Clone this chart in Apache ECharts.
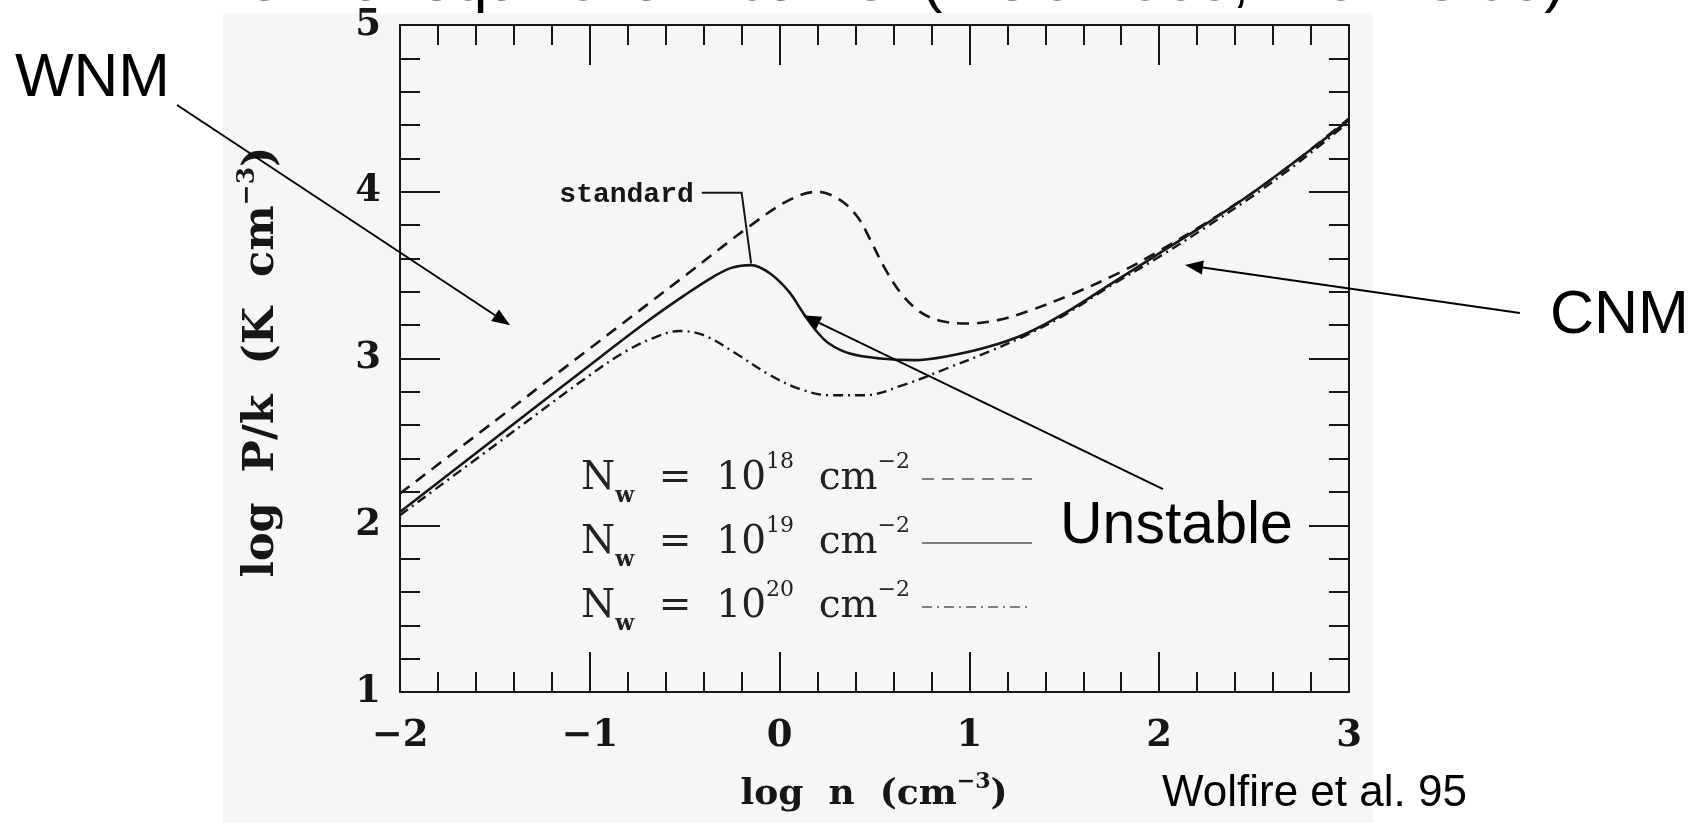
<!DOCTYPE html>
<html>
<head>
<meta charset="utf-8">
<title>Thermal equilibrium curve</title>
<script src="https://cdn.jsdelivr.net/npm/echarts@6/dist/echarts.min.js"></script>
<style>
html, body { margin: 0; padding: 0; background: #ffffff; }
#chart { width: 1704px; height: 823px; }
</style>
</head>
<body>
<div id="chart"></div>
<script>
// Thermal equilibrium curves: log n (cm^-3) against log P/k (K cm^-3)
// for three column densities N_w of the warm shielding layer.
const logN_18 = [-2, -1.5, -1, -0.5, -0.15, 0.05, 0.2, 0.32, 0.41, 0.47, 0.55, 0.64, 0.74, 0.85, 1.0, 1.15, 1.3, 1.55, 1.8, 2.0, 2.25, 2.5, 2.75, 3.0];
const logP_18 = [2.19, 2.625, 3.06, 3.495, 3.80, 3.95, 4.0, 3.95, 3.85, 3.73, 3.55, 3.39, 3.28, 3.225, 3.21, 3.23, 3.28, 3.39, 3.52, 3.645, 3.815, 4.0, 4.21, 4.44];

const logN_19 = [-2, -1.5, -1, -0.7, -0.5, -0.35, -0.25, -0.15, -0.05, 0.05, 0.12, 0.19, 0.26, 0.37, 0.53, 0.71, 0.89, 1.1, 1.3, 1.5, 1.75, 2.0, 2.25, 2.5, 2.75, 3.0];
const logP_19 = [2.08, 2.52, 2.96, 3.22, 3.38, 3.49, 3.545, 3.56, 3.51, 3.40, 3.28, 3.17, 3.09, 3.03, 3.0, 2.99, 3.015, 3.07, 3.15, 3.27, 3.45, 3.63, 3.81, 4.0, 4.21, 4.43];

const logN_20 = [-2, -1.5, -1.0, -0.8, -0.65, -0.53, -0.4, -0.23, -0.05, 0.1, 0.26, 0.45, 0.65, 0.88, 1.1, 1.3, 1.5, 1.75, 2.0, 2.25, 2.5, 2.75, 3.0];
const logP_20 = [2.06, 2.48, 2.90, 3.05, 3.13, 3.165, 3.14, 3.03, 2.90, 2.82, 2.78, 2.78, 2.84, 2.94, 3.04, 3.14, 3.26, 3.44, 3.61, 3.79, 3.98, 4.19, 4.42];

const seriesNames = ['Nw18', 'Nw19', 'Nw20'];
const columnExponents = ['18', '19', '20'];
const xTickLabels = ['\u22122', '\u22121', '0', '1', '2', '3'];
const yTickLabels = ['1', '2', '3', '4', '5'];

// Annotation anchors, in data coordinates (log n, log P/k)
const standardLeader = [[-0.41, 3.994], [-0.20, 3.994], [-0.15, 3.57]];
const wnmArrow = [[-3.175, 4.52], [-1.42, 3.20]];
const unstableArrow = [[2.02, 2.217], [0.123, 3.26]];
const cnmArrow = [[3.90, 3.273], [2.136, 3.561]];

const INK = '#161616';
const LABEL_FONT = 'DejaVu Serif';

function zip(xs, ys) { return xs.map((x, i) => [x, ys[i]]); }

const chart = echarts.init(document.getElementById('chart'), null, { renderer: 'canvas' });

const tickCommon = {
  axisLine: { show: true, onZero: false, lineStyle: { color: INK, width: 2 } },
  axisTick: { show: true, inside: true, length: 40, lineStyle: { color: INK, width: 2 } },
  minorTick: { show: true, splitNumber: 5, length: 20, lineStyle: { color: INK, width: 2 } },
  splitLine: { show: false },
  minorSplitLine: { show: false }
};
const labelFont = { fontFamily: LABEL_FONT, fontWeight: 'bold', fontSize: 37, color: INK };

const xBase = { type: 'value', min: -2, max: 3, interval: 1 };
const yBase = { type: 'value', min: 1, max: 5, interval: 1 };

chart.setOption({
  backgroundColor: '#ffffff',
  animation: false,
  grid: { left: 400, right: 355, top: 25, bottom: 131, containLabel: false },
  xAxis: [
    Object.assign({}, xBase, tickCommon, {
      position: 'bottom',
      axisLabel: Object.assign({ margin: 26, formatter: v => xTickLabels[Math.round(v - xBase.min)] }, labelFont)
    }),
    Object.assign({}, xBase, tickCommon, { position: 'top', axisLabel: { show: false } })
  ],
  yAxis: [
    Object.assign({}, yBase, tickCommon, {
      position: 'left',
      axisLabel: Object.assign({ margin: 19, formatter: v => yTickLabels[Math.round(v - yBase.min)] }, labelFont)
    }),
    Object.assign({}, yBase, tickCommon, { position: 'right', axisLabel: { show: false } })
  ],
  legend: {
    orient: 'vertical',
    left: 576,
    top: 446,
    align: 'right',
    itemWidth: 110,
    itemHeight: 12,
    itemGap: 8,
    selectedMode: false,
    data: seriesNames,
    itemStyle: { opacity: 0 },
    lineStyle: { width: 1.6, color: '#555' },
    formatter: name => {
      const e = columnExponents[seriesNames.indexOf(name)];
      return '{m|N}{sub|w}{m|  =  10}{sup|' + e + '}{m|  cm}{sup|\u22122 }';
    },
    textStyle: {
      color: '#222',
      rich: {
        m: { fontFamily: LABEL_FONT, fontSize: 39, lineHeight: 56, color: '#222' },
        sup: { fontFamily: LABEL_FONT, fontSize: 22, lineHeight: 24, verticalAlign: 'top', color: '#222' },
        sub: { fontFamily: LABEL_FONT, fontSize: 22, fontWeight: 'bold', lineHeight: 24, verticalAlign: 'bottom', color: '#222' }
      }
    }
  },
  series: [
    {
      name: seriesNames[0], type: 'line', data: zip(logN_18, logP_18), smooth: 0.35,
      symbol: 'none', itemStyle: { color: INK }, lineStyle: { color: INK, width: 2.6, type: [12, 8] }, z: 3
    },
    {
      name: seriesNames[1], type: 'line', data: zip(logN_19, logP_19), smooth: 0.35,
      symbol: 'none', itemStyle: { color: INK }, lineStyle: { color: INK, width: 2.6, type: 'solid' }, z: 4
    },
    {
      name: seriesNames[2], type: 'line', data: zip(logN_20, logP_20), smooth: 0.35,
      symbol: 'none', itemStyle: { color: INK }, lineStyle: { color: INK, width: 2.4, type: [10, 5, 2, 5] }, z: 3
    }
  ]
});

// Leader lines and arrows placed through the chart's own coordinate system
function px(p) { return chart.convertToPixel({ xAxisIndex: 0, yAxisIndex: 0 }, p); }

function arrow(from, to) {
  const a = px(from), b = px(to);
  const dx = b[0] - a[0], dy = b[1] - a[1];
  const len = Math.hypot(dx, dy);
  const ux = dx / len, uy = dy / len;
  const headLen = 18, headHalf = 7;
  const base = [b[0] - ux * headLen, b[1] - uy * headLen];
  return [
    { type: 'line', z: 50, shape: { x1: a[0], y1: a[1], x2: base[0], y2: base[1] },
      style: { stroke: '#000', lineWidth: 2 } },
    { type: 'polygon', z: 50, shape: { points: [
        b,
        [base[0] - uy * headHalf, base[1] + ux * headHalf],
        [base[0] + uy * headHalf, base[1] - ux * headHalf]
      ] }, style: { fill: '#000' } }
  ];
}

const leaderPts = standardLeader.map(px);

const graphics = [
  // light paper panel behind the plot
  { type: 'rect', z: -10, silent: true, shape: { x: 223, y: 13, width: 1150, height: 810 }, style: { fill: '#f6f6f6' } },
  // heading (runs off the top edge)
  { type: 'text', z: 50, x: 174, y: 14, style: {
      text: 'Thermal equilibrium curve  (Field 1965, Wolfire 95)',
      font: '62px "Liberation Sans"', fill: '#000', align: 'left', verticalAlign: 'bottom' } },
  // axis titles
  { type: 'text', z: 50, x: 874, y: 795, style: {
      text: '{a|log  n  (cm}{s|\u22123}{a|)}', align: 'center', verticalAlign: 'middle',
      rich: {
        a: { fontFamily: LABEL_FONT, fontWeight: 'bold', fontSize: 36, lineHeight: 48, fill: INK },
        s: { fontFamily: LABEL_FONT, fontWeight: 'bold', fontSize: 22, lineHeight: 24, verticalAlign: 'top', fill: INK }
      } } },
  { type: 'text', z: 50, x: 262, y: 362, rotation: Math.PI / 2, style: {
      text: '{a|log  P/k  (K  cm}{s|\u22123}{a|)}', align: 'center', verticalAlign: 'middle',
      rich: {
        a: { fontFamily: LABEL_FONT, fontWeight: 'bold', fontSize: 43, lineHeight: 54, fill: INK },
        s: { fontFamily: LABEL_FONT, fontWeight: 'bold', fontSize: 25, lineHeight: 26, verticalAlign: 'top', fill: INK }
      } } },
  // "standard" tag and its leader to the N_w = 10^19 curve
  { type: 'polyline', z: 50, shape: { points: leaderPts }, style: { stroke: INK, lineWidth: 2, fill: null } },
  { type: 'text', z: 50, x: leaderPts[0][0] - 8, y: leaderPts[0][1] + 2, style: {
      text: 'standard', font: 'bold 28px "Liberation Mono"', fill: INK, align: 'right', verticalAlign: 'middle' } },
  // phase labels
  { type: 'text', z: 50, x: 15, y: 79, style: { text: 'WNM', font: '62px "Liberation Sans"', fill: '#000', align: 'left', verticalAlign: 'middle' } },
  { type: 'text', z: 50, x: 1550, y: 316, style: { text: 'CNM', font: '61px "Liberation Sans"', fill: '#000', align: 'left', verticalAlign: 'middle' } },
  { type: 'text', z: 50, x: 1060, y: 527, style: { text: 'Unstable', font: '59px "Liberation Sans"', fill: '#000', align: 'left', verticalAlign: 'middle' } },
  { type: 'text', z: 50, x: 1162, y: 794, style: { text: 'Wolfire et al. 95', font: '44px "Liberation Sans"', fill: '#000', align: 'left', verticalAlign: 'middle' } }
]
  .concat(arrow(wnmArrow[0], wnmArrow[1]))
  .concat(arrow(unstableArrow[0], unstableArrow[1]))
  .concat(arrow(cnmArrow[0], cnmArrow[1]));

chart.setOption({ graphic: { elements: graphics } });
</script>
</body>
</html>
